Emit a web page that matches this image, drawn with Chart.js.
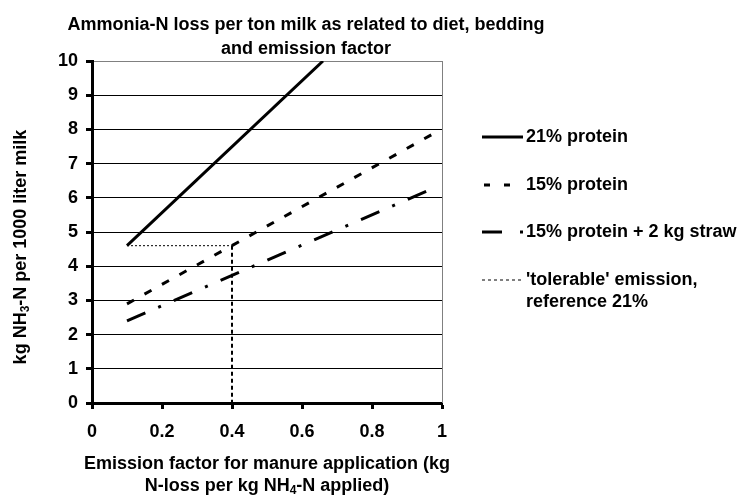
<!DOCTYPE html>
<html>
<head>
<meta charset="utf-8">
<script src="https://cdn.jsdelivr.net/npm/chart.js@4/dist/chart.umd.min.js"></script>
<style>
    body { margin: 0; background: #fff; }
    canvas { display: block; }
</style>
</head>
<body>
<canvas id="chart" width="745" height="495"></canvas>
<script>
        // Data
        const xTicks = [0, 0.2, 0.4, 0.6, 0.8, 1];
        const yTicks = [0, 1, 2, 3, 4, 5, 6, 7, 8, 9, 10];

        const seriesNames = ['21% protein', '15% protein', '15% protein + 2 kg straw', "'tolerable' emission,", 'reference 21%'];

        const xProtein21 = [0.1, 0.66];
        const yProtein21 = [4.6, 10];
        const xProtein15 = [0.1, 0.98];
        const yProtein15 = [2.9, 7.9];
        const xStraw = [0.1, 0.98];
        const yStraw = [2.4, 6.3];
        const xTolerable = [0.1, 0.4, 0.4];
        const yTolerable = [4.6, 4.6, 0];

        const FONT = '"Liberation Sans", Arial, sans-serif';

        function toPoints(xs, ys) {
            return xs.map((x, i) => ({ x: x, y: ys[i] }));
        }

        // Text with subscripts, centred on (cx, cy)
        function drawRich(ctx, parts, cx, cy) {
            const big = 'bold 18px ' + FONT;
            const small = 'bold 12px ' + FONT;
            let total = 0;
            parts.forEach(p => {
                ctx.font = p.sub ? small : big;
                total += ctx.measureText(p.t).width;
            });
            let x = cx - total / 2;
            ctx.textAlign = 'left';
            ctx.textBaseline = 'middle';
            parts.forEach(p => {
                ctx.font = p.sub ? small : big;
                ctx.fillText(p.t, x, p.sub ? cy + 5 : cy);
                x += ctx.measureText(p.t).width;
            });
        }

        function legendLine(ctx, x1, x2, y, width, dash) {
            ctx.beginPath();
            ctx.lineWidth = width;
            ctx.setLineDash(dash);
            ctx.moveTo(x1, y);
            ctx.lineTo(x2, y);
            ctx.stroke();
        }

        const overlay = {
            id: 'overlay',
            afterDraw(chart) {
                const ctx = chart.ctx;
                const area = chart.chartArea;
                ctx.save();
                ctx.fillStyle = '#000';
                ctx.strokeStyle = '#000';

                // right border of plot area
                ctx.strokeStyle = '#808080';
                legendLine(ctx, area.right + 0.5, area.right + 0.5, 0, 1, []);
                ctx.beginPath();
                ctx.moveTo(area.right + 0.5, area.top);
                ctx.lineTo(area.right + 0.5, area.bottom);
                ctx.stroke();
                ctx.strokeStyle = '#000';

                // title
                ctx.font = 'bold 18px ' + FONT;
                ctx.textAlign = 'center';
                ctx.textBaseline = 'middle';
                ctx.fillText('Ammonia-N loss per ton milk as related to diet, bedding', 306, 25);
                ctx.fillText('and emission factor', 306, 49);

                // x axis title
                const cx = (area.left + area.right) / 2;
                drawRich(ctx, [{ t: 'Emission factor for manure application (kg' }], cx, 464);
                drawRich(ctx, [{ t: 'N-loss per kg NH' }, { t: '4', sub: true }, { t: '-N applied)' }], cx, 486);

                // y axis title
                ctx.save();
                ctx.translate(21, 247);
                ctx.rotate(-Math.PI / 2);
                drawRich(ctx, [{ t: 'kg NH' }, { t: '3', sub: true }, { t: '-N per 1000 liter milk' }], 0, 0);
                ctx.restore();

                // legend
                legendLine(ctx, 482, 523, 137, 3, []);
                legendLine(ctx, 484, 524, 185, 3, [6, 14]);
                legendLine(ctx, 482, 524, 232, 3, [20, 18, 3, 100]);
                legendLine(ctx, 482, 521, 280, 1, [3, 3]);
                ctx.setLineDash([]);
                ctx.font = 'bold 18px ' + FONT;
                ctx.textAlign = 'left';
                ctx.textBaseline = 'middle';
                const rows = [137, 185, 232, 280, 302];
                seriesNames.forEach((name, i) => ctx.fillText(name, 526, rows[i]));

                ctx.restore();
            }
        };

        const ctx = document.getElementById('chart').getContext('2d');

        new Chart(ctx, {
            type: 'line',
            data: {
                datasets: [{
                    label: seriesNames[0],
                    data: toPoints(xProtein21, yProtein21),
                    borderColor: '#000',
                    borderWidth: 3
                }, {
                    label: seriesNames[1],
                    data: toPoints(xProtein15, yProtein15),
                    borderColor: '#000',
                    borderWidth: 3,
                    borderDash: [8, 12]
                }, {
                    label: seriesNames[2],
                    data: toPoints(xStraw, yStraw),
                    borderColor: '#000',
                    borderWidth: 3,
                    borderDash: [20, 14, 3, 14]
                }, {
                    label: seriesNames[3],
                    data: toPoints(xTolerable, yTolerable),
                    borderColor: '#000',
                    borderWidth: 1,
                    borderDash: [2, 2],
                    segment: {
                        borderWidth: c => c.p0.parsed.x === c.p1.parsed.x ? 2 : 1,
                        borderDash: c => c.p0.parsed.x === c.p1.parsed.x ? [4, 3] : [2, 2]
                    }
                }]
            },
            options: {
                responsive: false,
                animation: false,
                events: [],
                elements: {
                    point: { radius: 0 },
                    line: { tension: 0, fill: false }
                },
                layout: { padding: { left: 0, top: 61, right: 303, bottom: 0 } },
                plugins: {
                    legend: { display: false },
                    title: { display: false },
                    tooltip: { enabled: false }
                },
                scales: {
                    x: {
                        type: 'linear',
                        min: 0,
                        max: 1,
                        afterFit: s => { s.height = 92; },
                        afterBuildTicks: s => { s.ticks = xTicks.map(v => ({ value: v })); },
                        border: { color: '#000', width: 3 },
                        grid: {
                            drawOnChartArea: false,
                            drawTicks: true,
                            tickLength: 6,
                            tickWidth: 3,
                            tickColor: '#000'
                        },
                        ticks: {
                            color: '#000',
                            padding: 12,
                            font: { family: FONT, size: 18, weight: 'bold' },
                            callback: v => String(v)
                        }
                    },
                    y: {
                        min: 0,
                        max: 10,
                        afterFit: s => { s.width = 92; },
                        afterBuildTicks: s => { s.ticks = yTicks.map(v => ({ value: v })); },
                        border: { color: '#000', width: 3 },
                        grid: {
                            color: c => c.tick && c.tick.value === 10 ? '#808080' : '#000',
                            lineWidth: 1,
                            drawTicks: true,
                            tickLength: 6,
                            tickWidth: 3,
                            tickColor: '#000'
                        },
                        ticks: {
                            color: '#000',
                            padding: 8,
                            font: { family: FONT, size: 18, weight: 'bold' }
                        }
                    }
                }
            },
            plugins: [overlay]
        });
</script>
</body>
</html>
